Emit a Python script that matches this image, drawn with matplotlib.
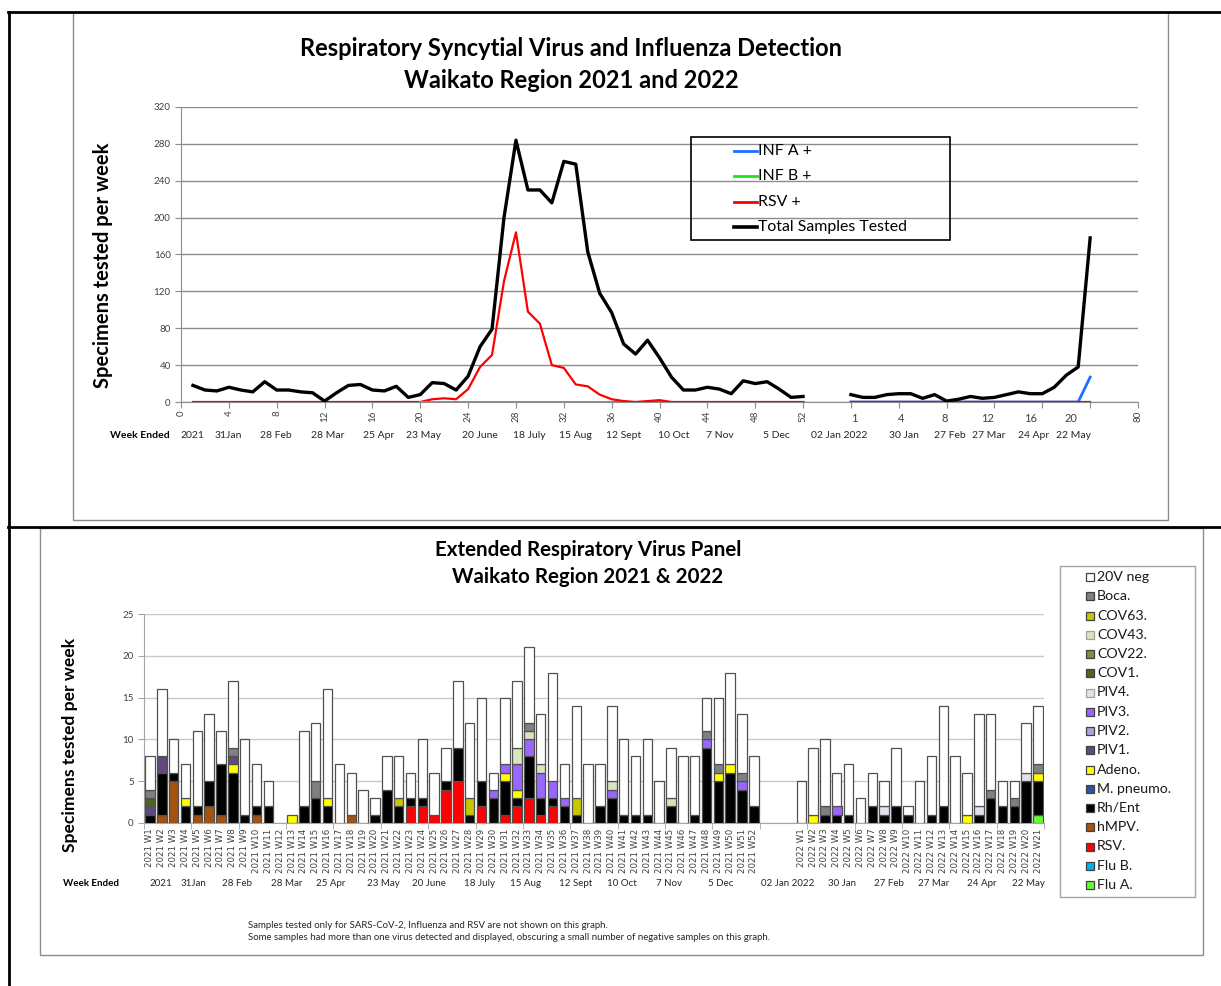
import matplotlib
matplotlib.use("Agg")
import matplotlib.pyplot as plt
from matplotlib.patches import Rectangle
from matplotlib.lines import Line2D
import numpy as np

# ---------------- top chart data ----------------
weeks_2021 = list(range(1, 53))
weeks_2022_pos = list(range(56, 77))   # 2022 W1..W21 plotted at 56..76
total_2021 = [18, 13, 12, 16, 13, 11, 22, 13, 13, 11, 10, 1, 10, 18, 19, 13, 12, 17, 5, 8,
              21, 20, 13, 28, 60, 79, 200, 284, 230, 230, 216, 261, 258, 163, 118, 97, 63, 52, 67, 48,
              27, 13, 13, 16, 14, 9, 23, 20, 22, 14, 5, 6]
rsv_line_2021 = [0, 0, 0, 0, 0, 0, 0, 0, 0, 0, 0, 0, 0, 0, 0, 0, 0, 0, 0, 0,
                 3, 4, 3, 14, 38, 51, 131, 184, 98, 85, 40, 37, 19, 17, 8, 3, 1, 0, 1, 2,
                 0, 0, 0, 0, 0, 0, 0, 0, 0, 0, 0, 0]
infa_line_2021 = [0, 0, 0, 0, 0, 0, 0, 0, 0, 0, 0, 0, 0, 0, 0, 0, 0, 0, 0, 0,
                  0, 0, 0, 0, 0, 0, 0, 0, 0, 0, 0, 0, 0, 0, 0, 0, 0, 0, 0, 0,
                  0, 0, 0, 0, 0, 0, 0, 0, 0, 0, 0, 0]
infb_line_2021 = [None, None, None, None, None, None, None, None, None, None, None, None, None,
                  None, None, None, None, None, None, 0, 0, 0, 0, 0, 0, 0, 0, 0, 0, 0, 0, 0,
                  0, 0, 0, 0, None, None, None, None, None, None, None, None, None, None, None,
                  None, None, None, None, None]
total_2022 = [8, 5, 5, 8, 9, 9, 4, 8, 1, 3, 6, 4, 5, 8, 11, 9, 9, 16, 29, 38, 178]
rsv_line_2022 = [0, 0, 0, 0, 0, 0, 0, 0, 0, 0, 0, 0, 0, 0, 0, 0, 0, 0, 0, 0, 0]
infa_line_2022 = [0, 0, 0, 0, 0, 0, 0, 0, 0, 0, 0, 0, 0, 0, 0, 0, 0, 0, 0, 0, 27]

top_date_labels = ["2021", "31Jan", "28 Feb", "28 Mar", "25 Apr", "23 May", "20 June",
                   "18 July", "15 Aug", "12 Sept", "10 Oct", "7 Nov", "5 Dec",
                   "02 Jan 2022", "30 Jan", "27 Feb", "27 Mar", "24 Apr", "22 May"]
top_2022_ticklabels = ["1", "4", "8", "12", "16", "20"]

# ---------------- bottom chart data ----------------
bar_weeks = ["2021 W%d" % i for i in range(1, 53)] + ["2022 W%d" % i for i in range(1, 22)]

neg_2021 = [4, 8, 4, 4, 9, 8, 4, 8, 9, 5, 3, 0, 0, 9, 7, 13, 7, 5, 4, 2, 4, 5, 3, 7, 5, 4,
            8, 9, 10, 2, 8, 8, 9, 6, 13, 4, 11, 7, 5, 9, 9, 7, 9, 5, 6, 8, 7, 4, 8, 11, 7, 6]
neg_2022 = [5, 8, 8, 4, 6, 3, 4, 3, 7, 1, 5, 7, 12, 8, 5, 11, 9, 3, 2, 6, 7]
boca_2021 = [1, 0, 0, 0, 0, 0, 0, 1, 0, 0, 0, 0, 0, 0, 2, 0, 0, 0, 0, 0, 0, 0, 0, 0, 0, 0,
             0, 0, 0, 0, 0, 0, 1, 0, 0, 0, 0, 0, 0, 0, 0, 0, 0, 0, 0, 0, 0, 1, 1, 0, 1, 0]
boca_2022 = [0, 0, 1, 0, 0, 0, 0, 0, 0, 0, 0, 0, 0, 0, 0, 0, 1, 0, 1, 0, 1]
cov63_2021 = [0, 0, 0, 0, 0, 0, 0, 0, 0, 0, 0, 0, 0, 0, 0, 0, 0, 0, 0, 0, 0, 1, 0, 0, 0, 0,
              0, 2, 0, 0, 0, 0, 0, 0, 0, 0, 2, 0, 0, 0, 0, 0, 0, 0, 0, 0, 0, 0, 0, 0, 0, 0]
cov63_2022 = [0, 0, 0, 0, 0, 0, 0, 0, 0, 0, 0, 0, 0, 0, 0, 0, 0, 0, 0, 0, 0]
cov43_2021 = [0, 0, 0, 0, 0, 0, 0, 0, 0, 0, 0, 0, 0, 0, 0, 0, 0, 0, 0, 0, 0, 0, 0, 0, 0, 0,
              0, 0, 0, 0, 0, 2, 1, 1, 0, 0, 0, 0, 0, 1, 0, 0, 0, 0, 1, 0, 0, 0, 0, 0, 0, 0]
cov43_2022 = [0, 0, 0, 0, 0, 0, 0, 0, 0, 0, 0, 0, 0, 0, 0, 0, 0, 0, 0, 0, 0]
cov22_2021 = [0, 0, 0, 0, 0, 0, 0, 0, 0, 0, 0, 0, 0, 0, 0, 0, 0, 0, 0, 0, 0, 0, 0, 0, 0, 0,
              0, 0, 0, 0, 0, 0, 0, 0, 0, 0, 0, 0, 0, 0, 0, 0, 0, 0, 0, 0, 0, 0, 0, 0, 0, 0]
cov22_2022 = [0, 0, 0, 0, 0, 0, 0, 0, 0, 0, 0, 0, 0, 0, 0, 0, 0, 0, 0, 0, 0]
cov1_2021 = [1, 0, 0, 0, 0, 0, 0, 0, 0, 0, 0, 0, 0, 0, 0, 0, 0, 0, 0, 0, 0, 0, 0, 0, 0, 0,
             0, 0, 0, 0, 0, 0, 0, 0, 0, 0, 0, 0, 0, 0, 0, 0, 0, 0, 0, 0, 0, 0, 0, 0, 0, 0]
cov1_2022 = [0, 0, 0, 0, 0, 0, 0, 0, 0, 0, 0, 0, 0, 0, 0, 0, 0, 0, 0, 0, 0]
piv4_2021 = [0, 0, 0, 0, 0, 0, 0, 0, 0, 0, 0, 0, 0, 0, 0, 0, 0, 0, 0, 0, 0, 0, 0, 0, 0, 0,
             0, 0, 0, 0, 0, 0, 0, 0, 0, 0, 0, 0, 0, 0, 0, 0, 0, 0, 0, 0, 0, 0, 0, 0, 0, 0]
piv4_2022 = [0, 0, 0, 0, 0, 0, 0, 1, 0, 0, 0, 0, 0, 0, 0, 1, 0, 0, 0, 1, 0]
piv3_2021 = [0, 0, 0, 0, 0, 0, 0, 0, 0, 0, 0, 0, 0, 0, 0, 0, 0, 0, 0, 0, 0, 0, 0, 0, 0, 0,
             0, 0, 0, 1, 1, 3, 2, 3, 2, 1, 0, 0, 0, 1, 0, 0, 0, 0, 0, 0, 0, 1, 0, 0, 1, 0]
piv3_2022 = [0, 0, 0, 1, 0, 0, 0, 0, 0, 0, 0, 0, 0, 0, 0, 0, 0, 0, 0, 0, 0]
piv2_2021 = [0, 0, 0, 0, 0, 0, 0, 0, 0, 0, 0, 0, 0, 0, 0, 0, 0, 0, 0, 0, 0, 0, 0, 0, 0, 0,
             0, 0, 0, 0, 0, 0, 0, 0, 0, 0, 0, 0, 0, 0, 0, 0, 0, 0, 0, 0, 0, 0, 0, 0, 0, 0]
piv2_2022 = [0, 0, 0, 0, 0, 0, 0, 0, 0, 0, 0, 0, 0, 0, 0, 0, 0, 0, 0, 0, 0]
piv1_2021 = [1, 2, 0, 0, 0, 0, 0, 1, 0, 0, 0, 0, 0, 0, 0, 0, 0, 0, 0, 0, 0, 0, 0, 0, 0, 0,
             0, 0, 0, 0, 0, 0, 0, 0, 0, 0, 0, 0, 0, 0, 0, 0, 0, 0, 0, 0, 0, 0, 0, 0, 0, 0]
piv1_2022 = [0, 0, 0, 0, 0, 0, 0, 0, 0, 0, 0, 0, 0, 0, 0, 0, 0, 0, 0, 0, 0]
adeno_2021 = [0, 0, 0, 1, 0, 0, 0, 1, 0, 0, 0, 0, 1, 0, 0, 1, 0, 0, 0, 0, 0, 0, 0, 0, 0, 0,
              0, 0, 0, 0, 1, 1, 0, 0, 0, 0, 0, 0, 0, 0, 0, 0, 0, 0, 0, 0, 0, 0, 1, 1, 0, 0]
adeno_2022 = [0, 1, 0, 0, 0, 0, 0, 0, 0, 0, 0, 0, 0, 0, 1, 0, 0, 0, 0, 0, 1]
mpneumo_2021 = [0, 0, 0, 0, 0, 0, 0, 0, 0, 0, 0, 0, 0, 0, 0, 0, 0, 0, 0, 0, 0, 0, 0, 0, 0, 0,
                0, 0, 0, 0, 0, 0, 0, 0, 0, 0, 0, 0, 0, 0, 0, 0, 0, 0, 0, 0, 0, 0, 0, 0, 0, 0]
mpneumo_2022 = [0, 0, 0, 0, 0, 0, 0, 0, 0, 0, 0, 0, 0, 0, 0, 0, 0, 0, 0, 0, 0]
rhent_2021 = [1, 5, 1, 2, 1, 3, 6, 6, 1, 1, 2, 0, 0, 2, 3, 2, 0, 0, 0, 1, 4, 2, 1, 1, 0, 1,
              4, 1, 3, 3, 4, 1, 5, 2, 1, 2, 1, 0, 2, 3, 1, 1, 1, 0, 2, 0, 1, 9, 5, 6, 4, 2]
rhent_2022 = [0, 0, 1, 1, 1, 0, 2, 1, 2, 1, 0, 1, 2, 0, 0, 1, 3, 2, 2, 5, 4]
hmpv_2021 = [0, 1, 5, 0, 1, 2, 1, 0, 0, 1, 0, 0, 0, 0, 0, 0, 0, 1, 0, 0, 0, 0, 0, 0, 0, 0,
             0, 0, 0, 0, 0, 0, 0, 0, 0, 0, 0, 0, 0, 0, 0, 0, 0, 0, 0, 0, 0, 0, 0, 0, 0, 0]
hmpv_2022 = [0, 0, 0, 0, 0, 0, 0, 0, 0, 0, 0, 0, 0, 0, 0, 0, 0, 0, 0, 0, 0]
rsv_2021 = [0, 0, 0, 0, 0, 0, 0, 0, 0, 0, 0, 0, 0, 0, 0, 0, 0, 0, 0, 0, 0, 0, 2, 2, 1, 4,
            5, 0, 2, 0, 1, 2, 3, 1, 2, 0, 0, 0, 0, 0, 0, 0, 0, 0, 0, 0, 0, 0, 0, 0, 0, 0]
rsv_2022 = [0, 0, 0, 0, 0, 0, 0, 0, 0, 0, 0, 0, 0, 0, 0, 0, 0, 0, 0, 0, 0]
flub_2021 = [0, 0, 0, 0, 0, 0, 0, 0, 0, 0, 0, 0, 0, 0, 0, 0, 0, 0, 0, 0, 0, 0, 0, 0, 0, 0,
             0, 0, 0, 0, 0, 0, 0, 0, 0, 0, 0, 0, 0, 0, 0, 0, 0, 0, 0, 0, 0, 0, 0, 0, 0, 0]
flub_2022 = [0, 0, 0, 0, 0, 0, 0, 0, 0, 0, 0, 0, 0, 0, 0, 0, 0, 0, 0, 0, 0]
flua_2021 = [0, 0, 0, 0, 0, 0, 0, 0, 0, 0, 0, 0, 0, 0, 0, 0, 0, 0, 0, 0, 0, 0, 0, 0, 0, 0,
             0, 0, 0, 0, 0, 0, 0, 0, 0, 0, 0, 0, 0, 0, 0, 0, 0, 0, 0, 0, 0, 0, 0, 0, 0, 0]
flua_2022 = [0, 0, 0, 0, 0, 0, 0, 0, 0, 0, 0, 0, 0, 0, 0, 0, 0, 0, 0, 0, 1]

# stacking order: bottom -> top
series_labels = ["Flu A.", "Flu B.", "RSV.", "hMPV.", "Rh/Ent", "M. pneumo.", "Adeno.",
                 "PIV1.", "PIV2.", "PIV3.", "PIV4.", "COV1.", "COV22.", "COV43.", "COV63.",
                 "Boca.", "20V neg"]
series_values = [flua_2021 + flua_2022, flub_2021 + flub_2022, rsv_2021 + rsv_2022,
                 hmpv_2021 + hmpv_2022, rhent_2021 + rhent_2022, mpneumo_2021 + mpneumo_2022,
                 adeno_2021 + adeno_2022, piv1_2021 + piv1_2022, piv2_2021 + piv2_2022,
                 piv3_2021 + piv3_2022, piv4_2021 + piv4_2022, cov1_2021 + cov1_2022,
                 cov22_2021 + cov22_2022, cov43_2021 + cov43_2022, cov63_2021 + cov63_2022,
                 boca_2021 + boca_2022, neg_2021 + neg_2022]
series_colors = ["#66ff33", "#00b0f0", "#ff0000", "#a5520f", "#000000", "#2f5597", "#ffff00",
                 "#604a7b", "#a6a6d8", "#9966ff", "#e6e0ec", "#4f6228", "#77933c", "#d8e4bc",
                 "#c8c800", "#808080", "#ffffff"]
bottom_date_labels = top_date_labels

# ---------------- figure ----------------
W, H = 1221, 986
fig = plt.figure(figsize=(W / 100, H / 100), dpi=100)
FONT = "Lato"
plt.rcParams["font.family"] = [FONT, "DejaVu Sans"]


def fx(x):
    return x / W


def fy(y):
    return 1 - y / H


def rect(l, t, r, b):
    return [l / W, 1 - b / H, (r - l) / W, (b - t) / H]


def hline(x0, x1, y, **kw):
    fig.add_artist(Line2D([fx(x0), fx(x1)], [fy(y), fy(y)], transform=fig.transFigure, **kw))


def vline(x, y0, y1, **kw):
    fig.add_artist(Line2D([fx(x), fx(x)], [fy(y0), fy(y1)], transform=fig.transFigure, **kw))


def box(l, t, r, b, **kw):
    fig.add_artist(Rectangle((fx(l), fy(b)), (r - l) / W, (b - t) / H,
                             transform=fig.transFigure, fill=False, **kw))


# panel boxes and frame lines
box(73, 12, 1168, 520, edgecolor="#8c8c8c", lw=1)
box(40, 528, 1203, 955, edgecolor="#8c8c8c", lw=1)
hline(8, 1221, 12, color="black", lw=2)
hline(8, 1221, 527, color="black", lw=2)
vline(8.5, 12, 986, color="black", lw=2)

# ================= TOP CHART =================
ax1 = fig.add_axes(rect(181, 107, 1138, 402))
ax1.set_xlim(0, 80)
ax1.set_ylim(0, 320)
ax1.set_yticks(np.arange(0, 321, 40))
ax1.set_xticks(np.arange(0, 81, 4))
ax1.set_xticklabels([str(t) if (t <= 52 or t == 80) else "" for t in range(0, 81, 4)],
                    rotation=90, fontsize=7, color="#404040")
ax1.tick_params(axis="y", labelsize=7, labelcolor="#404040", length=4, color="#8c8c8c")
ax1.tick_params(axis="x", length=4, color="#8c8c8c", pad=2)
ax1.grid(axis="y", color="#8c8c8c", lw=1)
ax1.set_axisbelow(True)
for s in ["top", "right"]:
    ax1.spines[s].set_visible(False)
for s in ["left", "bottom"]:
    ax1.spines[s].set_color("#8c8c8c")

ax1.plot(weeks_2021, infa_line_2021, color="#1f6fff", lw=2, zorder=3)
ax1.plot(weeks_2022_pos, infa_line_2022, color="#1f6fff", lw=2, zorder=3)
ax1.plot(weeks_2021, rsv_line_2021, color="#ff0000", lw=1.6, zorder=4)
ax1.plot(weeks_2022_pos, rsv_line_2022, color="#ff0000", lw=1.6, zorder=4)
infb_y = [np.nan if v is None else v for v in infb_line_2021]
ax1.plot(weeks_2021, infb_y, color="#22e022", lw=2, zorder=5)
ax1.plot(weeks_2021, total_2021, color="black", lw=2.4, zorder=6)
ax1.plot(weeks_2022_pos, total_2022, color="black", lw=2.4, zorder=6)

fig.text(fx(571), fy(49), "Respiratory Syncytial Virus and Influenza Detection",
         ha="center", va="center", fontsize=17, fontweight="bold")
fig.text(fx(571), fy(80), "Waikato Region 2021 and 2022",
         ha="center", va="center", fontsize=17, fontweight="bold")
fig.text(fx(103), fy(265), "Specimens tested per week", rotation=90,
         ha="center", va="center", fontsize=14.5, fontweight="bold")

# 2022 week numbers (overlaid labels)
top_2022_px = [854, 901, 945, 988, 1031, 1071]
for lab, px in zip(top_2022_ticklabels, top_2022_px):
    fig.text(fx(px), fy(418), lab, ha="center", va="center", fontsize=8, color="#404040")

fig.text(fx(140), fy(435), "Week Ended", ha="center", va="center", fontsize=7.5,
         fontweight="bold")
top_date_px = [192, 228, 276, 328, 379, 424, 480, 529, 575, 624, 674, 720, 776,
               839, 904, 950, 989, 1034, 1073]
for lab, px in zip(top_date_labels, top_date_px):
    fig.text(fx(px), fy(435), lab, ha="center", va="center", fontsize=7.5, color="#262626")

# top legend
box(691, 137, 950, 240, edgecolor="black", lw=1.2)
top_leg = [("INF A +", "#1f6fff", 2), ("INF B +", "#22e022", 2), ("RSV +", "#ff0000", 2),
           ("Total Samples Tested", "black", 2.6)]
for i, (lab, col, lw) in enumerate(top_leg):
    yy = 151 + i * 25.3
    hline(734, 757, yy, color=col, lw=lw)
    fig.text(fx(758), fy(yy), lab, ha="left", va="center", fontsize=11.4)

# ================= BOTTOM CHART =================
ax2 = fig.add_axes(rect(144, 614, 1044, 823))
n = len(bar_weeks)
slots = [i if i < 52 else i + 3 for i in range(n)]
bottoms = np.zeros(n)
for lab, vals, col in zip(series_labels, series_values, series_colors):
    vals = np.array(vals, dtype=float)
    m = vals > 0
    ax2.bar(np.array(slots)[m], vals[m], bottom=bottoms[m], width=0.8, color=col,
            edgecolor="#505050", lw=0.9, zorder=3)
    bottoms += vals

ax2.set_xlim(-0.5, 75.5)
ax2.set_ylim(0, 25)
ax2.set_yticks(np.arange(0, 26, 5))
ax2.tick_params(axis="y", labelsize=7, labelcolor="#404040", length=4, color="#a6a6a6")
all_slot_labels = bar_weeks[:52] + ["", "", ""] + bar_weeks[52:]
ax2.set_xticks(np.arange(76))
ax2.set_xticklabels(all_slot_labels, rotation=90, fontsize=6.2, color="#404040",
                    family="DejaVu Sans")
ax2.tick_params(axis="x", which="major", length=0, pad=4)
ax2.set_xticks(np.arange(-0.5, 76, 4), minor=True)
ax2.tick_params(axis="x", which="minor", length=4, color="#a6a6a6")
ax2.grid(axis="y", color="#c8c8c8", lw=1)
ax2.set_axisbelow(True)
for s in ["top", "right"]:
    ax2.spines[s].set_visible(False)
for s in ["left", "bottom"]:
    ax2.spines[s].set_color("#a6a6a6")

fig.text(fx(588), fy(550), "Extended Respiratory Virus Panel", ha="center", va="center",
         fontsize=14.8, fontweight="bold")
fig.text(fx(588), fy(577), "Waikato Region 2021 & 2022", ha="center", va="center",
         fontsize=14.8, fontweight="bold")
fig.text(fx(70), fy(745), "Specimens tested per week", rotation=90, ha="center",
         va="center", fontsize=12.6, fontweight="bold")

fig.text(fx(91), fy(884), "Week Ended", ha="center", va="center", fontsize=7,
         fontweight="bold")
bottom_date_px = [161, 193, 237, 287, 331, 383, 429, 480, 525, 576, 622, 669, 721,
                  788, 842, 889, 934, 982, 1028]
for lab, px in zip(bottom_date_labels, bottom_date_px):
    fig.text(fx(px), fy(884), lab, ha="center", va="center", fontsize=7, color="#262626")

fig.text(fx(248), fy(925), "Samples tested only for SARS-CoV-2, Influenza and RSV are not shown on this graph.",
         ha="left", va="center", fontsize=6.9, color="#262626")
fig.text(fx(248), fy(938), "Some samples had more than one virus detected and displayed, obscuring a small number of negative samples on this graph.",
         ha="left", va="center", fontsize=6.9, color="#262626")

# bottom legend (reverse of stacking order)
box(1060, 566, 1195, 897, edgecolor="#a6a6a6", lw=1)
for i, (lab, col) in enumerate(zip(series_labels[::-1], series_colors[::-1])):
    yy = 577 + i * 19.25
    edge = "#404040" if lab not in ("PIV4.", "COV43.") else "#a0a0a0"
    fig.add_artist(Rectangle((fx(1086), fy(yy + 4)), 8 / W, 8 / H, transform=fig.transFigure,
                             facecolor=col, edgecolor=edge, lw=0.9))
    fig.text(fx(1097), fy(yy), lab, ha="left", va="center", fontsize=10.2, color="#1a1a1a")

fig.savefig("out.png", dpi=100)
